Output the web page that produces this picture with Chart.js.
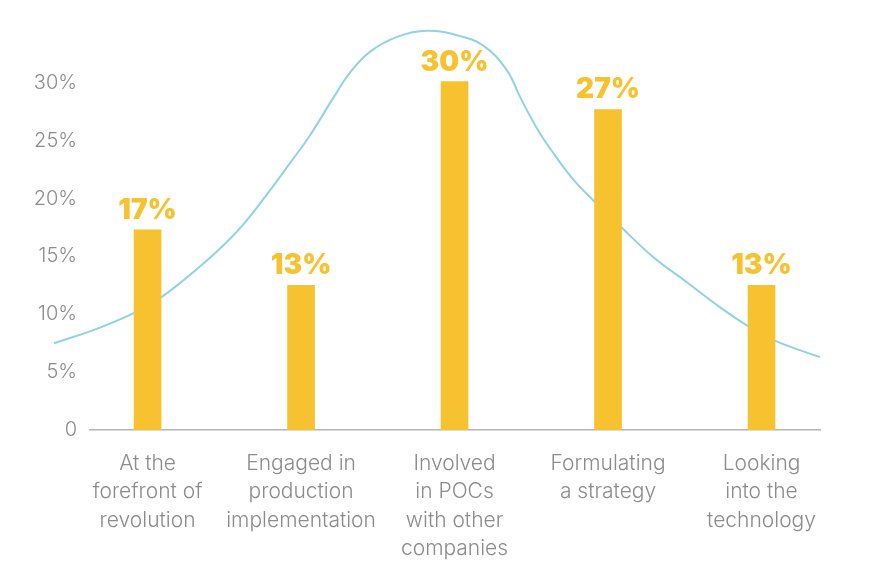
<!DOCTYPE html>
<html>
<head>
<meta charset="utf-8">
<script src="https://cdn.jsdelivr.net/npm/chart.js@4.4.1/dist/chart.umd.min.js"></script>
<style>
    html, body { margin: 0; padding: 0; background: #fff; }
    #wrap { width: 886px; height: 569px; position: relative; }
</style>
</head>
<body>
<div id="wrap"><canvas id="chart"></canvas></div>
<script>
// Categorias e valores
const categories = [
    ['At the', 'forefront of', 'revolution'],
    ['Engaged in', 'production', 'implementation'],
    ['Involved', 'in POCs', 'with other', 'companies'],
    ['Formulating', 'a strategy'],
    ['Looking', 'into the', 'technology']
];
const shares = [17.3, 12.5, 30.1, 27.7, 12.5];
const shareLabels = ['17%', '13%', '30%', '27%', '13%'];
const yTicks = [0, 5, 10, 15, 20, 25, 30];

// Curva de fundo (posição no eixo das categorias, valor em %)
const curveX = [-0.61, -0.34, -0.09, 0.08, 0.23, 0.45, 0.62, 0.78, 0.93, 1.06, 1.21, 1.32, 1.45,
                1.63, 1.82, 2.02, 2.19, 2.34, 2.43, 2.54, 2.64, 2.77, 2.90, 3.08, 3.29, 3.52,
                3.73, 3.91, 4.09, 4.38];
const curveY = [7.5, 8.7, 10.1, 11.4, 12.9, 15.4, 17.7, 20.4, 23.1, 25.5, 28.7, 30.9, 32.7,
                34.0, 34.5, 34.1, 33.2, 31.1, 28.7, 26.0, 24.0, 21.7, 19.9, 17.6, 15.0, 12.7,
                10.6, 9.0, 7.7, 6.3];

const yellow = '#F6C230';
const grey = '#8c8c8c';
const baseFont = 'Inter, "Open Sans", sans-serif';

// Rótulos acima das barras
const barLabels = {
    id: 'barLabels',
    afterDatasetsDraw(chart) {
        const ctx = chart.ctx;
        const meta = chart.getDatasetMeta(1);
        ctx.save();
        ctx.fillStyle = yellow;
        ctx.font = '900 28px ' + baseFont;
        ctx.textAlign = 'center';
        ctx.textBaseline = 'alphabetic';
        meta.data.forEach((bar, i) => {
            ctx.fillText(shareLabels[i], bar.x, bar.y - 11);
        });
        ctx.restore();
    }
};

new Chart(document.getElementById('chart'), {
    type: 'bar',
    data: {
        datasets: [
            {
                type: 'line',
                data: curveX.map((x, i) => ({ x: x, y: curveY[i] })),
                borderColor: '#8FD2E9',
                borderWidth: 2,
                pointRadius: 0,
                tension: 0.4,
                clip: false,
                order: 2
            },
            {
                data: shares.map((v, i) => ({ x: i, y: v })),
                backgroundColor: yellow,
                barThickness: 27,
                order: 1
            }
        ]
    },
    options: {
        responsive: true,
        maintainAspectRatio: false,
        animation: false,
        layout: { padding: { top: 21.7, right: 66, bottom: 0, left: 0 } },
        plugins: {
            legend: { display: false },
            tooltip: { enabled: false }
        },
        scales: {
            x: {
                type: 'linear',
                offset: false,
                min: -0.375,
                max: 4.381,
                grid: { display: false, drawTicks: false },
                border: { display: true, color: '#b5b5b5', width: 1.5 },
                afterBuildTicks: scale => {
                    scale.ticks = categories.map((c, i) => ({ value: i }));
                },
                afterFit: scale => { scale.height = 139; },
                ticks: {
                    autoSkip: false,
                    maxRotation: 0,
                    padding: 19,
                    color: grey,
                    font: { family: baseFont, size: 21, weight: 300, lineHeight: 1.36 },
                    callback: value => categories[value]
                }
            },
            y: {
                min: 0,
                max: 35,
                grid: { display: false, drawTicks: false },
                border: { display: false },
                afterBuildTicks: scale => {
                    scale.ticks = yTicks.map(v => ({ value: v }));
                },
                afterFit: scale => { scale.width = 90; },
                ticks: {
                    padding: 13,
                    color: grey,
                    font: { family: baseFont, size: 20, weight: 300 },
                    callback: value => value === 0 ? '0' : value + '%'
                }
            }
        }
    },
    plugins: [barLabels]
});
</script>
</body>
</html>
